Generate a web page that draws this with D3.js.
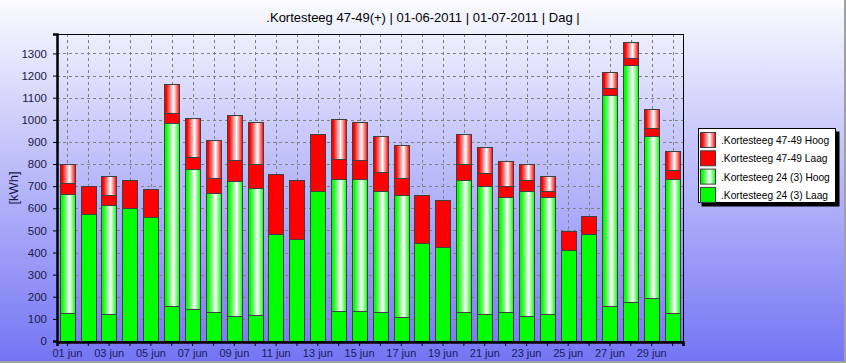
<!DOCTYPE html>
<html>
<head>
<meta charset="utf-8">
<script src="https://cdn.jsdelivr.net/npm/d3@7"></script>
<style>
  html, body { margin: 0; padding: 0; background: #fff; }
  svg { display: block; font-family: "Liberation Sans", Arial, sans-serif; }
</style>
</head>
<body>
<div id="chart"></div>
<script>
// days of june 2011
const days = d3.range(1, 31);
const tickLabels = days.map(d => (d < 10 ? '0' + d : '' + d) + ' jun');

// kWh per series (stack order bottom -> top)
const groenLaag = [128, 575, 124, 602, 561, 160, 146, 133, 113, 119, 486, 463, 676, 137, 137,
                   133, 110, 445, 427, 130, 121, 133, 115, 121, 413, 486, 160, 178, 196, 128];
const groenHoog = [537, 0, 491, 0, 0, 826, 632, 537, 611, 573, 0, 0, 0, 596, 596,
                   543, 551, 0, 0, 600, 582, 516, 564, 528, 0, 0, 950, 1068, 733, 605];
const roodLaag  = [51, 128, 47, 128, 124, 47, 56, 68, 95, 106, 267, 267, 262, 92, 87,
                   87, 78, 213, 210, 68, 56, 54, 49, 31, 86, 81, 32, 35, 36, 42];
const roodHoog  = [84, 0, 86, 0, 0, 131, 172, 173, 201, 194, 0, 0, 0, 177, 172,
                   163, 145, 0, 0, 137, 116, 113, 70, 64, 0, 0, 72, 73, 86, 82];

const seriesNames = ['.Kortesteeg 24 (3) Laag', '.Kortesteeg 24 (3) Hoog',
                     '.Kortesteeg 47-49 Laag', '.Kortesteeg 47-49 Hoog'];
const yTicks = d3.range(0, 1301, 100);
const title = '.Kortesteeg 47-49(+) | 01-06-2011 | 01-07-2011 | Dag |';

const W = 846, H = 363;
const plot = { left: 57, right: 683, top: 34, bottom: 341 };

const rows = days.map((d, i) => ({
  day: d, gl: groenLaag[i], gh: groenHoog[i], rl: roodLaag[i], rh: roodHoog[i]
}));
const keys = ['gl', 'gh', 'rl', 'rh'];
const stacked = d3.stack().keys(keys)(rows);

const svg = d3.select('#chart').append('svg')
  .attr('width', W).attr('height', H);

const defs = svg.append('defs');
const bg = defs.append('linearGradient').attr('id', 'bg')
  .attr('x1', 0).attr('y1', 0).attr('x2', 0).attr('y2', 1);
bg.append('stop').attr('offset', 0).attr('stop-color', '#fbfbff');
bg.append('stop').attr('offset', 1).attr('stop-color', '#7474f4');

function hoogGrad(id, c) {
  const g = defs.append('linearGradient').attr('id', id)
    .attr('x1', 0).attr('y1', 0).attr('x2', 1).attr('y2', 0);
  g.append('stop').attr('offset', 0).attr('stop-color', c);
  g.append('stop').attr('offset', 0.12).attr('stop-color', c);
  g.append('stop').attr('offset', 0.6).attr('stop-color', '#ffffff');
  g.append('stop').attr('offset', 1).attr('stop-color', c);
}
hoogGrad('gHoog', '#00ff00');
hoogGrad('rHoog', '#ff0000');

const fills = { gl: '#00ff00', gh: 'url(#gHoog)', rl: '#ff0000', rh: 'url(#rHoog)' };

svg.append('rect').attr('width', W).attr('height', H).attr('fill', 'url(#bg)');
// window border
svg.append('path').attr('d', `M0,${H - 1}H${W - 1}V0`)
  .attr('fill', 'none').attr('stroke', '#a0a0a0').attr('stroke-width', 2);

const x = d3.scaleBand().domain(days).range([plot.left, plot.right])
  .paddingInner(0.26).paddingOuter(0.13);
const y = d3.scaleLinear().domain([0, 1388]).range([plot.bottom, plot.top]);

svg.append('text').attr('x', W / 2).attr('y', 22).attr('text-anchor', 'middle')
  .attr('font-size', 13).attr('fill', '#000').text(title);

// grid
const grid = svg.append('g').attr('stroke', '#808080').attr('stroke-dasharray', '3,3');
grid.selectAll('line.h').data(yTicks.slice(1)).join('line')
  .attr('x1', plot.left).attr('x2', plot.right)
  .attr('y1', d => Math.round(y(d)) + 0.5).attr('y2', d => Math.round(y(d)) + 0.5);
grid.selectAll('line.v').data(days).join('line')
  .attr('x1', d => Math.round(x(d) + x.bandwidth() / 2) + 0.5)
  .attr('x2', d => Math.round(x(d) + x.bandwidth() / 2) + 0.5)
  .attr('y1', plot.top).attr('y2', plot.bottom);

// bars
svg.append('g').selectAll('g').data(stacked).join('g')
  .attr('fill', s => fills[s.key])
  .selectAll('rect').data(s => s.filter(d => d[1] - d[0] > 0)).join('rect')
  .attr('x', d => Math.round(x(d.data.day)) + 0.5)
  .attr('width', Math.round(x.bandwidth()))
  .attr('y', d => Math.round(y(d[1])) + 0.5)
  .attr('height', d => Math.round(y(d[0])) - Math.round(y(d[1])))
  .attr('stroke', '#404040').attr('stroke-width', 1);

// frame
svg.append('rect').attr('x', plot.left + 0.5).attr('y', plot.top + 0.5)
  .attr('width', plot.right - plot.left).attr('height', plot.bottom - plot.top)
  .attr('fill', 'none').attr('stroke', '#000');

// y axis
const yAxis = svg.append('g').attr('transform', `translate(${plot.left},0)`)
  .call(d3.axisLeft(y).tickValues(yTicks).tickFormat(d3.format('d')).tickSize(4).tickPadding(6));
yAxis.select('.domain').attr('stroke-width', 2.5);
yAxis.selectAll('text').attr('font-size', 11.5).attr('fill', '#1a1a48')
  .attr('font-family', '"Liberation Sans", Arial, sans-serif');

// x axis
const xAxis = svg.append('g').attr('transform', `translate(0,${plot.bottom + 1})`)
  .call(d3.axisBottom(x).tickSize(4).tickPadding(3)
    .tickFormat((d, i) => i % 2 === 0 ? tickLabels[i] : ''));
xAxis.select('.domain').attr('stroke-width', 2.5);
xAxis.selectAll('text').attr('font-size', 11).attr('fill', '#1a1a60')
  .attr('font-family', '"Liberation Sans", Arial, sans-serif');

svg.append('text').attr('transform', 'translate(18,188) rotate(-90)')
  .attr('text-anchor', 'middle').attr('font-size', 13).attr('fill', '#1a1a48')
  .text('[kWh]');

// legend
const leg = svg.append('g').attr('transform', 'translate(698,128)');
leg.append('rect').attr('x', 3.5).attr('y', 3.5).attr('width', 138).attr('height', 75)
  .attr('fill', '#000');
leg.append('rect').attr('x', 0.5).attr('y', 0.5).attr('width', 137).attr('height', 74)
  .attr('fill', '#fff').attr('stroke', '#000');
const legItems = ['rh', 'rl', 'gh', 'gl'];
const legNames = [seriesNames[3], seriesNames[2], seriesNames[1], seriesNames[0]];
const li = leg.selectAll('g.item').data(legItems).join('g')
  .attr('transform', (d, i) => `translate(2,${4 + i * 18.3})`);
li.append('rect').attr('x', 0.5).attr('y', 0.5).attr('width', 15).attr('height', 15)
  .attr('fill', d => fills[d]).attr('stroke', '#404040');
li.append('text').attr('x', 21).attr('y', 12).attr('font-size', 10.2).attr('fill', '#000')
  .text((d, i) => legNames[i]);
</script>
</body>
</html>
